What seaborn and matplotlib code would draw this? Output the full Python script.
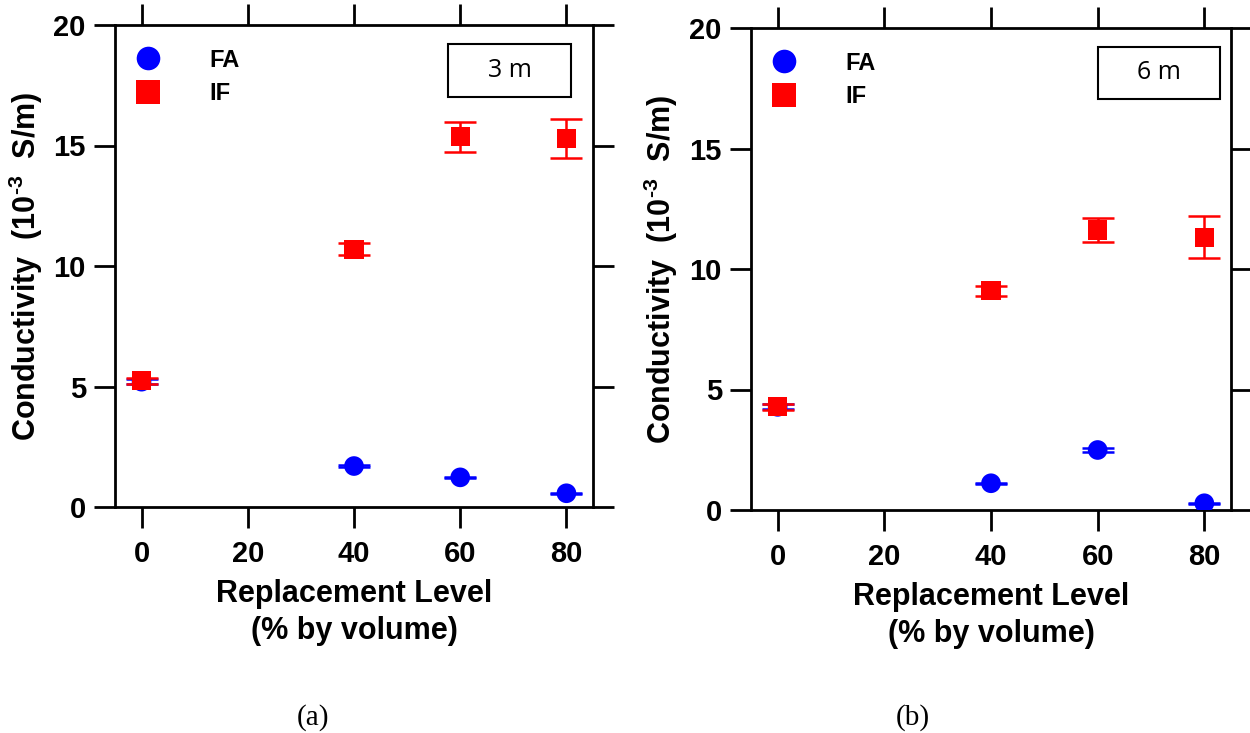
import numpy as np
import pandas as pd
import seaborn as sns
import matplotlib.pyplot as plt
from matplotlib.lines import Line2D
from matplotlib.patches import Rectangle

# ---- data ----
levels = [0, 40, 60, 80]
series = ["FA", "IF"]

fa_3m = [5.2, 1.70, 1.23, 0.57]
fa_3m_err = [0.10, 0.03, 0.03, 0.03]
if_3m = [5.24, 10.69, 15.37, 15.30]
if_3m_err = [0.12, 0.25, 0.62, 0.80]

fa_6m = [4.28, 1.11, 2.49, 0.28]
fa_6m_err = [0.10, 0.03, 0.09, 0.03]
if_6m = [4.29, 9.10, 11.62, 11.31]
if_6m_err = [0.12, 0.20, 0.50, 0.87]

panel_tags = ["3 m", "6 m"]
sub_captions = ["(a)", "(b)"]
xticks = [0, 20, 40, 60, 80]
yticks = [0, 5, 10, 15, 20]

sns.set_theme(style="ticks")
plt.rcParams['font.family'] = ['Liberation Sans', 'DejaVu Sans']
plt.rcParams['text.color'] = 'black'
plt.rcParams['axes.labelcolor'] = 'black'
plt.rcParams['mathtext.fontset'] = 'custom'
plt.rcParams['mathtext.rm'] = 'Liberation Sans:bold'
plt.rcParams['mathtext.bf'] = 'Liberation Sans:bold'
plt.rcParams['mathtext.it'] = 'Liberation Sans:bold'
plt.rcParams['mathtext.default'] = 'rm'

colors = {"FA": "#0000FF", "IF": "#FF0000"}
markers = {"FA": "o", "IF": "s"}

fig = plt.figure(figsize=(12.5, 7.33), dpi=100)
ax1 = fig.add_axes([115/1250, 1-507/733, 478/1250, 482/733])
ax2 = fig.add_axes([751/1250, 1-510/733, 480/1250, 482/733])

panels = [
    (ax1, fa_3m, fa_3m_err, if_3m, if_3m_err, panel_tags[0],
     (0.697, 0.851, 0.257, 0.110), -0.146),
    (ax2, fa_6m, fa_6m_err, if_6m, if_6m_err, panel_tags[1],
     (0.723, 0.853, 0.254, 0.108), -0.148),
]

for ax, fa, fae, iff, ife, tag, box, ylx in panels:
    df = pd.DataFrame({
        "level": levels * 2,
        "value": fa + iff,
        "err": fae + ife,
        "series": ["FA"] * len(levels) + ["IF"] * len(levels),
    })
    for s in series:
        d = df[df["series"] == s]
        ax.errorbar(d["level"], d["value"], yerr=d["err"], fmt="none",
                    ecolor=colors[s], elinewidth=1.8, capsize=11.5,
                    capthick=1.8, zorder=2)
        sns.scatterplot(data=d, x="level", y="value", ax=ax,
                        color=colors[s], marker=markers[s], s=200 if s == "FA" else 190,
                        edgecolor="none", linewidth=0, zorder=3, legend=False)

    ax.set_xlim(-5, 85)
    ax.set_ylim(0, 20)
    ax.set_xticks(xticks)
    ax.set_yticks(yticks)
    ax.tick_params(axis="both", which="major", direction="out", length=15,
                   width=2, colors="black", labelsize=21, pad=6,
                   top=True, right=True, labeltop=False, labelright=False)
    ax.tick_params(axis="x", pad=9)
    for lab in ax.get_xticklabels() + ax.get_yticklabels():
        lab.set_fontweight("bold")
    for sp in ax.spines.values():
        sp.set_linewidth(2)
        sp.set_color("black")
        sp.set_visible(True)

    ax.set_xlabel("Replacement Level\n(% by volume)", fontsize=22,
                  fontweight="bold", linespacing=1.3, labelpad=8,
                  color="black")
    ax.set_ylabel("Conductivity  (10$^{\u20103}$  S/m)", fontsize=22,
                  fontweight="bold", color="black")
    ax.yaxis.set_label_coords(ylx, 0.5)

    handles = [
        Line2D([], [], linestyle="none", marker="o", color=colors["FA"],
               markersize=17, markeredgewidth=0),
        Line2D([], [], linestyle="none", marker="s", color=colors["IF"],
               markersize=17, markeredgewidth=0),
    ]
    leg = ax.legend(handles, series, loc="upper left",
                    bbox_to_anchor=(-0.03, 1.0), frameon=False,
                    handletextpad=1.6, labelspacing=0.45, borderpad=0.5,
                    prop={"weight": "bold", "size": 17})
    for t in leg.get_texts():
        t.set_color("black")

    bx, by, bw, bh = box
    ax.add_patch(Rectangle((bx, by), bw, bh, transform=ax.transAxes,
                           fill=False, edgecolor="black", linewidth=1.5,
                           zorder=5))
    ax.text(bx + bw/2, by + bh/2, tag, transform=ax.transAxes,
            ha="center", va="center", fontsize=18, family="Open Sans",
            color="black", zorder=6)

fig.text(313/1250, 1-718/733, sub_captions[0], ha="center", va="center",
         fontsize=21, family="Liberation Serif", color="black")
fig.text(913/1250, 1-718/733, sub_captions[1], ha="center", va="center",
         fontsize=21, family="Liberation Serif", color="black")

fig.savefig("out.png", dpi=100)
